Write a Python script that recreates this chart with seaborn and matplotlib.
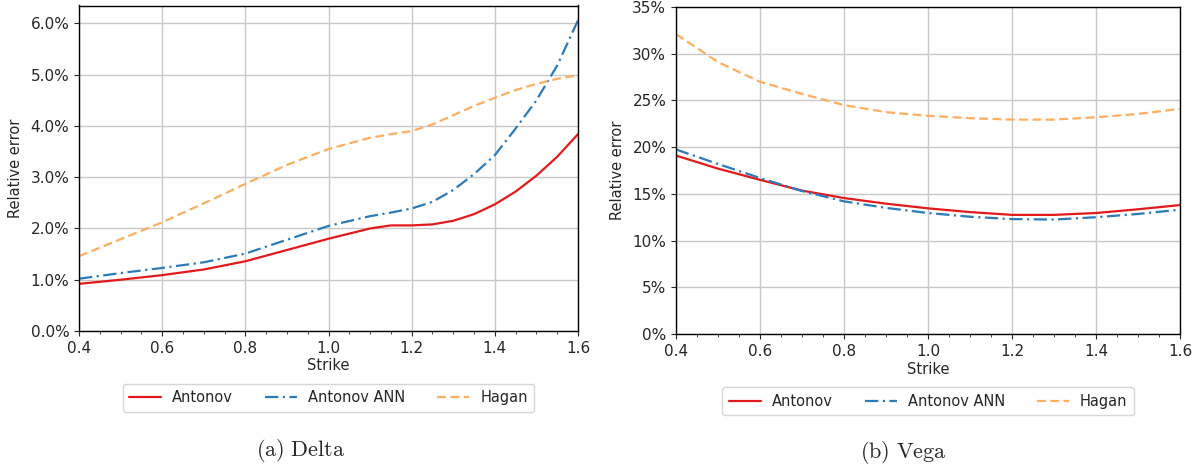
import numpy as np
import pandas as pd
import matplotlib
matplotlib.use("Agg")
import matplotlib.pyplot as plt
from matplotlib.ticker import FuncFormatter, MultipleLocator
import seaborn as sns

# ---- data ----
strike_delta = [0.4, 0.5, 0.6, 0.7, 0.8, 0.9, 1.0, 1.1, 1.15, 1.2, 1.25, 1.3, 1.35, 1.4, 1.45, 1.5, 1.55, 1.6]
delta_antonov = [0.92, 1.00, 1.09, 1.20, 1.36, 1.58, 1.80, 2.00, 2.06, 2.06, 2.08, 2.15, 2.28, 2.47, 2.72, 3.03, 3.40, 3.84]
delta_ann = [1.02, 1.13, 1.23, 1.34, 1.51, 1.78, 2.05, 2.24, 2.31, 2.39, 2.52, 2.75, 3.06, 3.43, 3.95, 4.50, 5.18, 6.06]
delta_hagan = [1.46, 1.79, 2.12, 2.49, 2.87, 3.24, 3.55, 3.77, 3.84, 3.90, 4.03, 4.21, 4.39, 4.55, 4.70, 4.82, 4.92, 4.99]

strike_vega = [0.4, 0.5, 0.6, 0.7, 0.8, 0.9, 1.0, 1.1, 1.2, 1.3, 1.4, 1.5, 1.6]
vega_antonov = [19.1, 17.7, 16.5, 15.35, 14.55, 13.95, 13.45, 13.05, 12.75, 12.75, 12.95, 13.35, 13.8]
vega_ann = [19.75, 18.2, 16.7, 15.3, 14.2, 13.5, 12.95, 12.55, 12.3, 12.25, 12.5, 12.85, 13.3]
vega_hagan = [32.1, 29.1, 27.0, 25.7, 24.5, 23.75, 23.35, 23.1, 22.95, 22.95, 23.2, 23.55, 24.1]

series_names = ["Antonov", "Antonov ANN", "Hagan"]
colors = ["#e31a1c", "#2b7bba", "#fdae61"]
captions = ["(a) Delta", "(b) Vega"]

sns.set_style("ticks")
plt.rcParams["font.family"] = ["DejaVu Sans"]
plt.rcParams["mathtext.fontset"] = "cm"

fig = plt.figure(figsize=(12.02, 4.68), dpi=100)
ax1 = fig.add_axes([79/1202, 1-331/468, (578-79)/1202, (331-5.5)/468])
ax2 = fig.add_axes([676/1202, 1-334/468, (1180-676)/1202, (334-7)/468])

dashes = {"Antonov": "", "Antonov ANN": (6, 2, 1, 2), "Hagan": (4, 2)}

def draw(ax, x, ys, ymax, ystep, fmt):
    rows = []
    for name, vals in zip(series_names, ys):
        for xi, yi in zip(x, vals):
            rows.append({"Strike": xi, "val": yi / 100.0, "series": name})
    df = pd.DataFrame(rows)
    sns.lineplot(data=df, x="Strike", y="val", hue="series", style="series",
                 palette=dict(zip(series_names, colors)), dashes=dashes,
                 linewidth=1.6, ax=ax, legend=True)
    ax.set_xlim(0.4, 1.6)
    ax.set_ylim(0, ymax)
    ax.yaxis.set_major_locator(MultipleLocator(ystep))
    ax.yaxis.set_major_formatter(FuncFormatter(fmt))
    ax.xaxis.set_major_locator(MultipleLocator(0.2))
    ax.xaxis.set_minor_locator(MultipleLocator(0.05))
    ax.xaxis.set_major_formatter(FuncFormatter(lambda v, p: f"{v:.1f}"))
    ax.grid(True, which="major", color="#c8c8c8", linewidth=1.0)
    ax.set_axisbelow(True)
    ax.set_xlabel("Strike", fontsize=10.5, labelpad=2)
    ax.set_ylabel("Relative error", fontsize=10.5, labelpad=5)
    ax.tick_params(axis="both", labelsize=11, length=3.5, width=0.8, direction="out")
    ax.tick_params(axis="x", which="minor", length=2, width=0.6)
    for s in ax.spines.values():
        s.set_visible(True)
        s.set_linewidth(1.0)
        s.set_color("black")

draw(ax1, strike_delta, [delta_antonov, delta_ann, delta_hagan], 0.0635, 0.01,
     lambda v, p: f"{v*100:.1f}%")
draw(ax2, strike_vega, [vega_antonov, vega_ann, vega_hagan], 0.35, 0.05,
     lambda v, p: f"{v*100:.0f}%")

for ax in (ax1, ax2):
    h, l = ax.get_legend_handles_labels()
    ax.get_legend().remove()
    ax.legend(h, l, loc="upper center", bbox_to_anchor=(0.5, -0.14), ncol=3,
              fontsize=10.5, frameon=True, edgecolor="#cccccc", fancybox=True,
              handlelength=2.2, handletextpad=0.75, columnspacing=2.2, borderpad=0.45)

fig.text(301/1202, 1-450/468, r"$\mathrm{(a)\ Delta}$", ha="center", va="center", fontsize=16)
fig.text(903/1202, 1-453/468, r"$\mathrm{(b)\ Vega}$", ha="center", va="center", fontsize=16)

fig.savefig("out.png", dpi=100)
